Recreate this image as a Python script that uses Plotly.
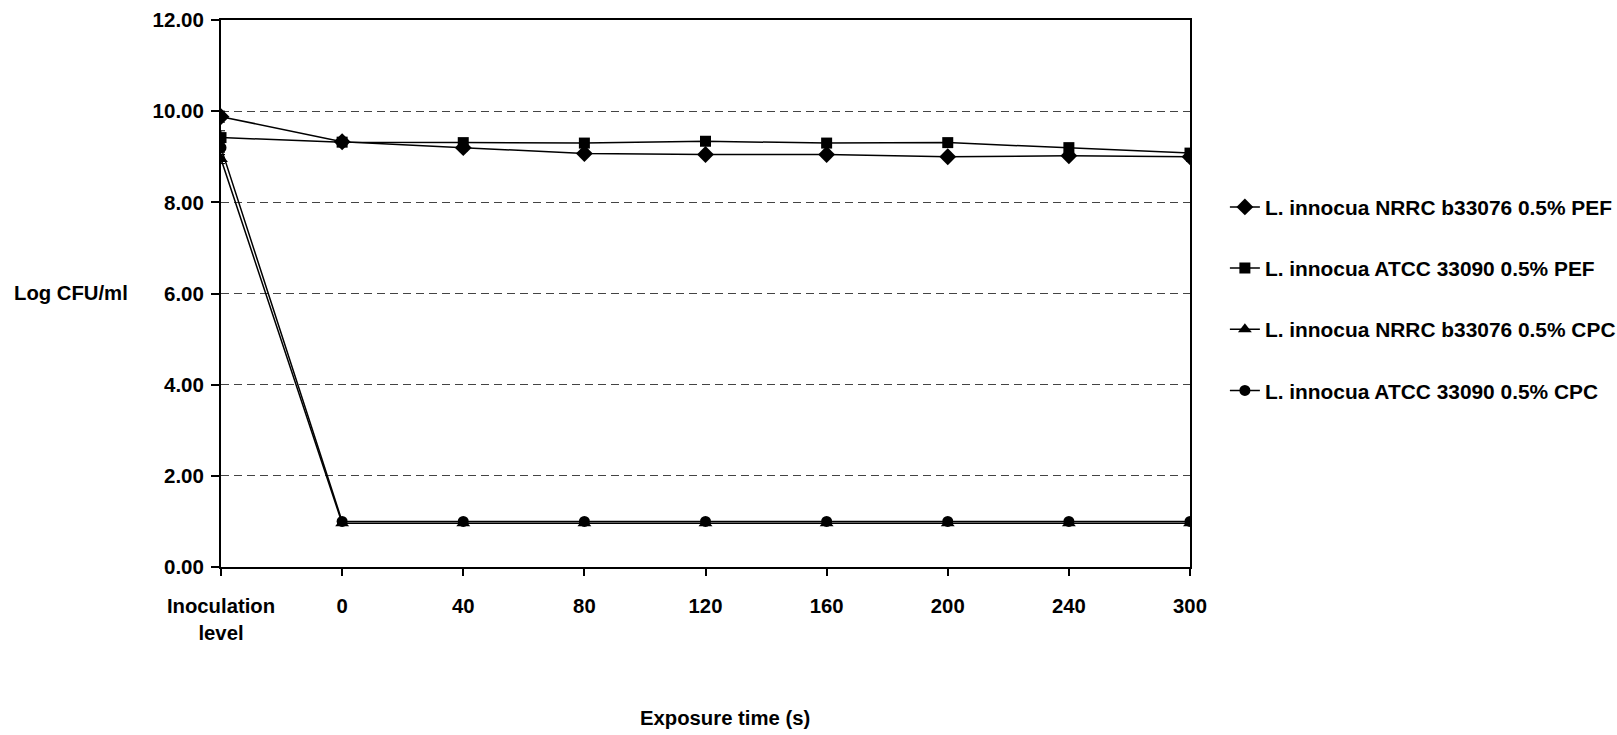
import plotly.graph_objects as go

categories = ["Inoculation<br>level", "0", "40", "80", "120", "160", "200", "240", "300"]

nrrc_pef = [9.88, 9.33, 9.20, 9.07, 9.05, 9.05, 9.00, 9.02, 9.00]
atcc_pef = [9.42, 9.32, 9.31, 9.30, 9.34, 9.30, 9.31, 9.20, 9.08]
nrrc_cpc = [8.95, 0.96, 0.96, 0.96, 0.96, 0.96, 0.96, 0.96, 0.96]
atcc_cpc = [9.20, 1.00, 1.00, 1.00, 1.00, 1.00, 1.00, 1.00, 1.00]

nrrc_pef_err = [0.12, 0.05, 0.08, 0.05, 0.04, 0.04, 0.04, 0.05, 0.10]
atcc_pef_err = [0.15, 0.05, 0.05, 0.04, 0.04, 0.04, 0.04, 0.05, 0.05]
nrrc_cpc_err = [0.10, 0, 0, 0, 0, 0, 0, 0, 0]
atcc_cpc_err = [0.10, 0, 0, 0, 0, 0, 0, 0, 0]

names = [
    "L. innocua NRRC b33076 0.5% PEF",
    "L. innocua ATCC 33090 0.5% PEF",
    "L. innocua NRRC b33076 0.5% CPC",
    "L. innocua ATCC 33090 0.5% CPC",
]
series = [nrrc_pef, atcc_pef, nrrc_cpc, atcc_cpc]
errors = [nrrc_pef_err, atcc_pef_err, nrrc_cpc_err, atcc_cpc_err]
symbols = ["diamond", "square", "triangle-up", "circle"]
sizes = [13, 11, 12, 11]

FONT = "Liberation Sans, Arial, sans-serif"

fig = go.Figure()
for i, (nm, ys, er, sym, sz) in enumerate(zip(names, series, errors, symbols, sizes)):
    fig.add_trace(go.Scatter(
        x=categories, y=ys, name=nm, mode="lines+markers",
        line=dict(color="black", width=1.5),
        marker=dict(symbol=sym, size=sz, color="black"),
        error_y=dict(type="data", array=er, visible=True, color="black", thickness=1, width=4),
        legendgroup=f"g{i}",
    ))

L, R, T, B = 221, 1190, 20, 567

fig.update_layout(
    width=1617, height=735,
    margin=dict(l=L, r=1617 - R, t=T, b=735 - B, autoexpand=False),
    paper_bgcolor="white", plot_bgcolor="white",
    font=dict(family=FONT, size=20, color="black", weight="bold"),
    showlegend=True,
    legend=dict(
        x=1.036, xanchor="left", y=0.695, yanchor="top",
        font=dict(family=FONT, size=20.9, color="black", weight="bold"),
        tracegroupgap=31, bgcolor="rgba(0,0,0,0)",
    ),
    xaxis=dict(
        type="category", range=[0, 8],
        showline=True, linecolor="black", linewidth=2, mirror=True,
        ticks="outside", ticklen=7, tickcolor="black", tickwidth=2,
        showgrid=False, zeroline=False,
        tickfont=dict(family=FONT, size=20.3, color="black", weight="bold"),
        ticklabelstandoff=13,
    ),
    yaxis=dict(
        range=[0, 12], dtick=2, tickformat=".2f",
        showline=True, linecolor="black", linewidth=2, mirror=True,
        ticks="outside", ticklen=8, tickcolor="black", tickwidth=2,
        showgrid=True, gridcolor="#444", gridwidth=1, griddash="8px,5px",
        zeroline=False,
        tickfont=dict(family=FONT, size=20.5, color="black", weight="bold"),
        ticklabelstandoff=3,
    ),
)

# axis titles placed as horizontal text (pixel positions converted to paper coords)
titles = [("Log CFU/ml", 71, 293), ("Exposure time (s)", 725, 718)]
for txt, px, py in titles:
    fig.add_annotation(
        text=txt, x=(px - L) / (R - L), y=(B - py) / (B - T),
        xref="paper", yref="paper", xanchor="center", yanchor="middle", showarrow=False,
        font=dict(family=FONT, size=20.3, color="black", weight="bold"),
    )

fig.write_html("out.html", config={"displayModeBar": False},
               post_script="document.body.style.margin='0';")
